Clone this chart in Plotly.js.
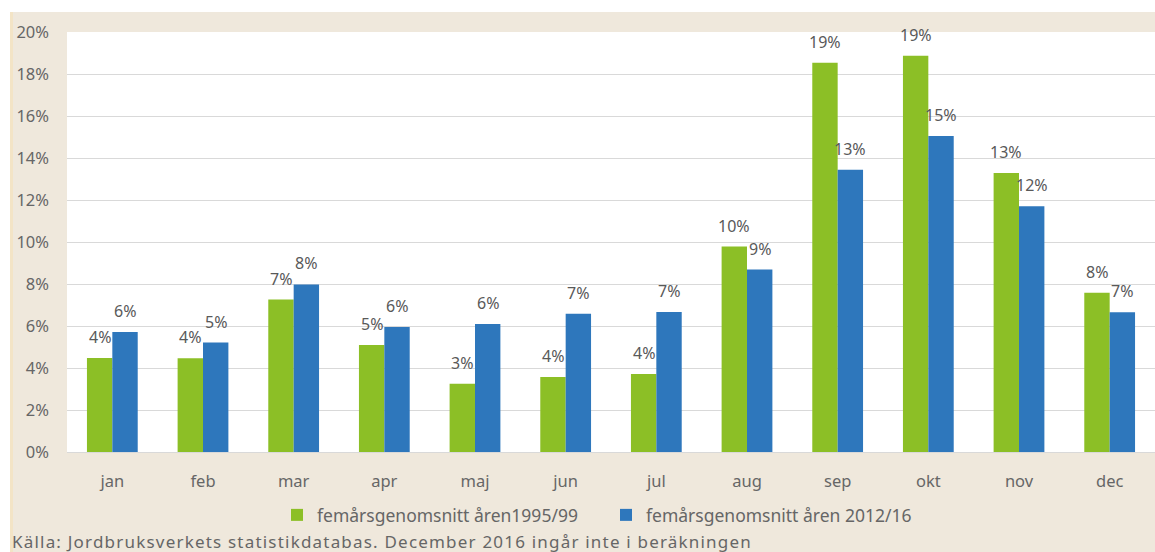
<!DOCTYPE html>
<html>
<head>
<meta charset="utf-8">
<script src="https://cdn.plot.ly/plotly-3.0.1.min.js"></script>
<style>html,body{margin:0;padding:0;background:#fff;}#chart{width:1155px;height:552px;}</style>
</head>
<body>
<div id="chart"></div>
<script>
const months = ["jan","feb","mar","apr","maj","jun","jul","aug","sep","okt","nov","dec"];
const seriesOldName = "femårsgenomsnitt åren1995/99";
const seriesNewName = "femårsgenomsnitt åren 2012/16";
const seriesOld = [0.0448, 0.0447, 0.0726, 0.051, 0.0325, 0.0357, 0.0372, 0.0978, 0.1853, 0.1887, 0.1328, 0.0758];
const seriesNew = [0.0571, 0.0521, 0.0798, 0.0595, 0.0609, 0.0658, 0.0667, 0.0869, 0.1344, 0.1505, 0.1170, 0.0666];
const yTickVals = [0, 0.02, 0.04, 0.06, 0.08, 0.10, 0.12, 0.14, 0.16, 0.18, 0.20];
const sourceText = "Källa: Jordbruksverkets statistikdatabas. December 2016 ingår inte i beräkningen";

const W = 1155, H = 552, L = 67, R = 0, T = 32, B = 100;
const pw = W - L - R, ph = H - T - B;
const px2x = p => (p - L) / pw;
const py2y = p => (H - B - p) / ph;

const FONT = "Noto Sans, Open Sans, sans-serif";
const labelFont = {family: FONT, size: 16, color: "#595959"};
const BARGAP = 0.44;
const halfBar = (pw / months.length) * (1 - BARGAP) / 4;
const pct = v => Math.round(v * 100) + "%";

const traces = [
  {type: "bar", name: seriesOldName, x: months, y: seriesOld,
   marker: {color: "#8cbf26"}, hoverinfo: "skip"},
  {type: "bar", name: seriesNewName, x: months, y: seriesNew,
   marker: {color: "#2e77bc"}, hoverinfo: "skip"}
];

const valueLabels = [];
months.forEach((m, i) => {
  valueLabels.push({xref: "x", yref: "y", x: m, y: seriesOld[i], xshift: -halfBar, yshift: 8,
    xanchor: "center", yanchor: "bottom", text: pct(seriesOld[i]), showarrow: false, font: labelFont});
  valueLabels.push({xref: "x", yref: "y", x: m, y: seriesNew[i], xshift: halfBar, yshift: 8,
    xanchor: "center", yanchor: "bottom", text: pct(seriesNew[i]), showarrow: false, font: labelFont});
});

const layout = {
  width: W, height: H,
  margin: {l: L, r: R, t: T, b: B, pad: 0},
  paper_bgcolor: "#efe8dc",
  plot_bgcolor: "#ffffff",
  barmode: "group", bargap: BARGAP, bargroupgap: 0,
  font: {family: FONT, size: 16, color: "#666666"},
  xaxis: {type: "category", showgrid: false, zeroline: false, showline: true,
          linecolor: "#d9d9d9", linewidth: 1, ticks: "", ticklabelstandoff: 14,
          tickfont: {family: FONT, size: 16.5, color: "#666666"}, fixedrange: true},
  yaxis: {range: [0, 0.2], tickvals: yTickVals, tickformat: ".0%", showgrid: true,
          gridcolor: "#d9d9d9", gridwidth: 1, zeroline: false, showline: false, ticks: "",
          ticklabelstandoff: 17, tickfont: {family: FONT, size: 16.5, color: "#666666"}, fixedrange: true},
  showlegend: true,
  legend: {orientation: "h", x: px2x(277), xanchor: "left", y: py2y(515), yanchor: "middle",
           bgcolor: "rgba(0,0,0,0)", font: {family: FONT, size: 17.5, color: "#666666"},
           itemwidth: 30, entrywidth: 284, entrywidthmode: "pixels", traceorder: "normal"},
  shapes: [
    {type: "rect", xref: "paper", yref: "paper", x0: px2x(-5), x1: px2x(10), y0: py2y(560), y1: py2y(-5),
     fillcolor: "#ffffff", line: {width: 0}, layer: "above"},
    {type: "rect", xref: "paper", yref: "paper", x0: px2x(-5), x1: px2x(1160), y0: py2y(12), y1: py2y(-5),
     fillcolor: "#ffffff", line: {width: 0}, layer: "above"},
    {type: "rect", xref: "paper", yref: "paper", x0: px2x(10), x1: px2x(13), y0: py2y(560), y1: py2y(12),
     fillcolor: "#f3e4c6", line: {width: 0}, layer: "above"}
  ],
  annotations: valueLabels.concat([
    {xref: "paper", yref: "paper", x: px2x(10), y: py2y(541), xanchor: "left", yanchor: "middle",
     text: '<span style="letter-spacing:1.2px">' + sourceText + '</span>', showarrow: false,
     font: {family: FONT, size: 17, color: "#666666"}}
  ])
};

Plotly.newPlot("chart", traces, layout, {displayModeBar: false, staticPlot: true});
</script>
</body>
</html>
